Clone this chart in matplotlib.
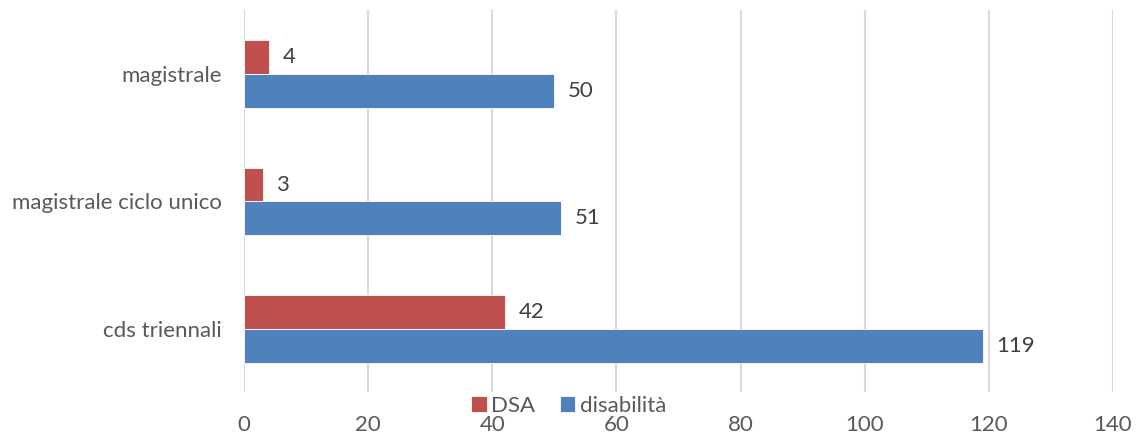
import matplotlib.pyplot as plt
import numpy as np

categorie = ['cds triennali', 'magistrale ciclo unico', 'magistrale']
dsa = [42, 3, 4]
disabilita = [119, 51, 50]
xticks = [0, 20, 40, 60, 80, 100, 120, 140]

plt.rcParams['font.family'] = ['Lato', 'DejaVu Sans']
testo = '#595959'

fig = plt.figure(figsize=(11.37, 4.36), dpi=100)
ax = fig.add_axes([0.2146, 0.0998, 0.7643, 0.8762])

y = np.arange(len(categorie))
h = 0.265
b1 = ax.barh(y + h / 2, dsa, height=h, color='#C0504D', edgecolor='white', linewidth=0.6, label='DSA', zorder=3)
b2 = ax.barh(y - h / 2, disabilita, height=h, color='#4F81BD', edgecolor='white', linewidth=0.6, label='disabilità', zorder=3)

for barre in (b1, b2):
    ax.bar_label(barre, padding=10, fontsize=16, color='#404040')

ax.set_xlim(0, 140)
ax.set_ylim(-0.5, 2.5)
ax.set_xticks(xticks)
ax.set_yticks(y)
ax.set_yticklabels(categorie)
ax.tick_params(axis='x', length=0, pad=16, labelsize=16, labelcolor=testo)
ax.tick_params(axis='y', length=0, pad=16, labelsize=16, labelcolor=testo)
ax.grid(axis='x', color='#D9D9D9', linewidth=1.5, zorder=0)
for s in ax.spines.values():
    s.set_visible(False)

fig.legend(loc='center', bbox_to_anchor=(0.5, 0.069), ncol=2, frameon=False,
           fontsize=16, labelcolor=testo, handlelength=0.7, handleheight=0.7,
           handletextpad=0.2, columnspacing=1.1, borderpad=0)

fig.savefig('out.png', dpi=100)
